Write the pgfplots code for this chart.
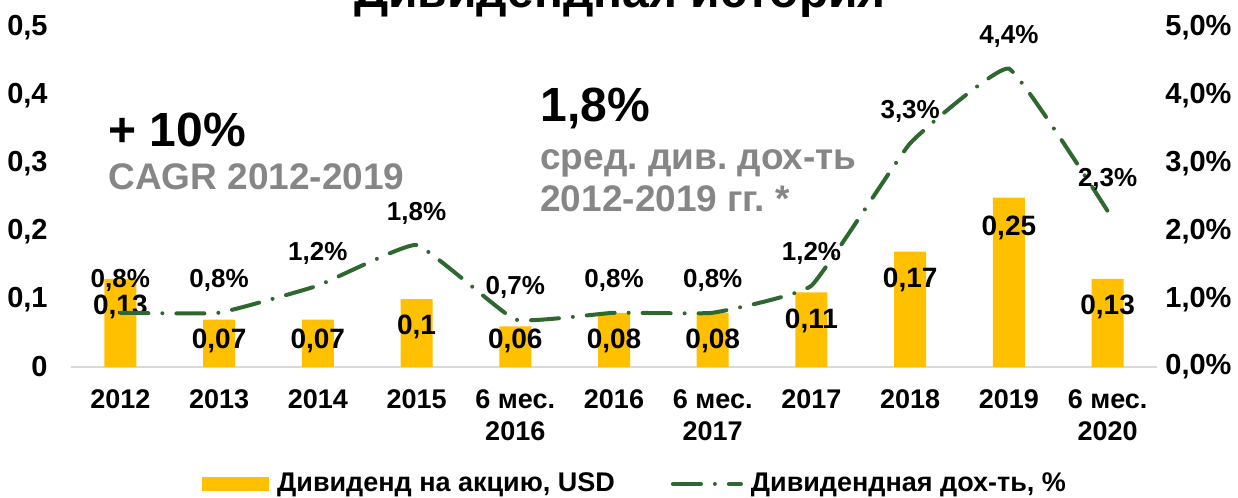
\documentclass[border=0pt]{standalone}
\usepackage{fontspec}
\setmainfont{Liberation Sans}
\usepackage{pgfplots}
\usepackage{pgfplotstable}
\pgfplotsset{compat=1.18}
\frenchspacing

\definecolor{gold}{RGB}{255,192,0}
\definecolor{dgreen}{RGB}{46,104,48}
\definecolor{txtgray}{RGB}{134,134,134}
\definecolor{basegray}{RGB}{217,217,217}
\newcommand{\lbl}{\fontsize{13}{16}\selectfont\bfseries}
\newcommand{\xlbl}{\fontsize{13.5}{16}\selectfont\bfseries}
\newcommand{\ylbl}{\fontsize{14.5}{17}\selectfont\bfseries}
\newcommand{\barlbl}{\fontsize{14}{17}\selectfont\bfseries}

% dividend per share, USD; ly = height of the value label
\pgfplotstableread{
x bar ly lab
0 0.13 0.0885 0,13
1 0.07 0.038 0,07
2 0.07 0.038 0,07
3 0.10 0.059 0,1
4 0.06 0.038 0,06
5 0.08 0.038 0,08
6 0.08 0.038 0,08
7 0.11 0.068 0,11
8 0.17 0.128 0,17
9 0.25 0.205 0,25
10 0.13 0.0885 0,13
}\bars

% dividend yield, %
\pgfplotstableread{
x y lab
0 0.8 0,8
1 0.8 0,8
2 1.2 1,2
3 1.8 1,8
4 0.7 0,7
5 0.8 0,8
6 0.8 0,8
7 1.2 1,2
8 3.3 3,3
9 4.4 4,4
10 2.3 2,3
}\yield

\begin{document}
\begin{tikzpicture}
\begin{axis}[
  at={(0,0)}, anchor=south west, scale only axis,
  width=543pt, height=169.5pt,
  xmin=-0.5, xmax=10.5, ymin=0, ymax=0.5,
  axis x line*=bottom, axis y line*=left,
  x axis line style={draw=basegray, line width=1pt, -},
  y axis line style={draw=none},
  major tick length=0pt,
  xtick={0,1,2,3,4,5,6,7,8,9,10},
  xticklabels={2012,2013,2014,2015,{6 мес.\\2016},2016,{6 мес.\\2017},2017,2018,2019,{6 мес.\\2020}},
  xticklabel style={font=\xlbl, align=center, inner sep=0pt, anchor=north, yshift=-11pt},
  ytick={0,0.1,0.2,0.3,0.4,0.5},
  yticklabels={0,{0,1},{0,2},{0,3},{0,4},{0,5}},
  yticklabel style={font=\ylbl, inner sep=0pt, anchor=east, xshift=-11.5pt},
  clip=false,
]
\addplot[ybar, bar width=16pt, fill=gold, draw=none] table[x=x, y=bar] {\bars};
\addplot[only marks, mark=none, nodes near coords, point meta=explicit symbolic,
  nodes near coords style={font=\barlbl, anchor=center, inner sep=0pt, text=black}]
  table[x=x, y=ly, meta=lab] {\bars};
\end{axis}

\begin{axis}[
  at={(0,0)}, anchor=south west, scale only axis,
  width=543pt, height=169.5pt,
  xmin=-0.5, xmax=10.5, ymin=0, ymax=5,
  axis x line=none, xtick=\empty,
  axis y line*=right, y axis line style={draw=none},
  major tick length=0pt,
  ytick={0,1,2,3,4,5},
  yticklabels={{0,0\%},{1,0\%},{2,0\%},{3,0\%},{4,0\%},{5,0\%}},
  yticklabel style={font=\ylbl, inner sep=0pt, anchor=west, xshift=4pt},
  clip=false,
  legend columns=2,
  legend cell align=left,
  legend style={draw=none, fill=none, font=\fontsize{13.5}{16}\selectfont\bfseries,
    at={(0.1206,-0.345)}, anchor=west,
    inner sep=0pt, /tikz/every even column/.append style={column sep=26pt}},
]
\addlegendimage{legend image code/.code={\fill[gold] (0pt,-3.25pt) rectangle (33pt,3.25pt); \path (35pt,0pt);}}
\addlegendentry{Дивиденд на акцию, USD}
\addplot[dgreen, line width=2pt, smooth, tension=0.2, line cap=round,
  dash pattern=on 14pt off 7pt on 0pt off 7pt,
  nodes near coords={\pgfplotspointmeta\%}, point meta=explicit symbolic,
  nodes near coords style={font=\lbl, text=black, anchor=center, yshift=16pt, inner sep=0pt},
  legend image code/.code={\draw[dgreen, line width=2pt, line cap=round,
    dash pattern=on 14pt off 7pt on 0pt off 7pt] (0pt,0pt) -- (34pt,0pt); \path (36pt,0pt);}]
  table[x=x, y=y, meta=lab] {\yield};
\addlegendentry{Дивидендная дох-ть, \%}
\end{axis}

\node[font=\fontsize{24}{28}\selectfont\bfseries, anchor=base] at (274.5pt,179.5pt) {Дивидендная история};
\node[font=\fontsize{24}{28}\selectfont\bfseries, anchor=base west, inner sep=0pt] at (18.5pt,110pt) {+ 10\%};
\node[font=\fontsize{18.5}{22}\selectfont\bfseries, text=txtgray, anchor=base west, inner sep=0pt] at (18.5pt,88.5pt) {CAGR 2012-2019};
\node[font=\fontsize{24}{28}\selectfont\bfseries, anchor=base west, inner sep=0pt] at (234.5pt,122.5pt) {1,8\%};
\node[font=\fontsize{18.5}{22}\selectfont\bfseries, text=txtgray, anchor=base west, inner sep=0pt] at (234.5pt,98.5pt) {сред. див. дох-ть};
\node[font=\fontsize{18.5}{22}\selectfont\bfseries, text=txtgray, anchor=base west, inner sep=0pt] at (234.5pt,77.5pt) {2012-2019 гг. *};

\pgfresetboundingbox
\path[use as bounding box] (-35.5pt,-65.5pt) rectangle (583.5pt,183.5pt);
\end{tikzpicture}
\end{document}
